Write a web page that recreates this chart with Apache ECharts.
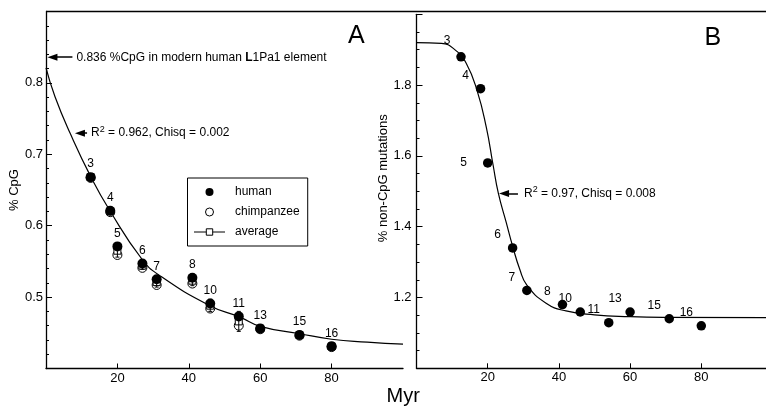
<!DOCTYPE html>
<html>
<head>
<meta charset="utf-8">
<script src="https://cdn.jsdelivr.net/npm/echarts@6/dist/echarts.min.js"></script>
<style>
  html, body { margin: 0; padding: 0; background: #fff; }
  #chart { width: 766px; height: 406px; }
</style>
</head>
<body>
<div id="chart"></div>
<script>
// L1 subfamilies and their age (Myr)
const subfamilies = ['3', '4', '5', '6', '7', '8', '10', '11', '13', '15', '16'];
const ages = [12.5, 18, 20, 27, 31, 41, 46, 54, 60, 71, 80];

// panel A: % CpG
const humanCpG = [0.668, 0.621, 0.571, 0.547, 0.525, 0.527, 0.491, 0.473, 0.456, 0.447, 0.431];
const chimpCpG = [0.667, 0.619, 0.559, 0.541, 0.517, 0.519, 0.484, 0.460, 0.455, 0.446, 0.430];
const averageCpG = [0.668, 0.620, 0.565, 0.544, 0.521, 0.523, 0.488, 0.466, 0.456, 0.447, 0.431];
const averageLow = [0.664, 0.616, 0.556, 0.539, 0.514, 0.516, 0.480, 0.452, 0.451, 0.442, 0.427];
const averageHigh = [0.672, 0.625, 0.574, 0.550, 0.528, 0.530, 0.497, 0.480, 0.461, 0.452, 0.436];
const cpgFitX = [0, 2.5, 6.8, 12.6, 17.9, 26.9, 31.9, 45.9, 54.3, 60, 70.8, 80, 90, 100];
const cpgFitY = [0.821, 0.781, 0.729, 0.668, 0.621, 0.553, 0.530, 0.488, 0.472, 0.459, 0.449, 0.441, 0.437, 0.434];

// panel B: % non-CpG mutations
const nonCpG = [1.88, 1.79, 1.58, 1.34, 1.22, 1.18, 1.159, 1.129, 1.159, 1.14, 1.12];
const nonCpGFitX = [0, 7, 11, 14, 17, 19.6, 21.5, 23, 25.2, 27, 29, 31, 36.4, 42, 50, 60, 70, 100];
const nonCpGFitY = [1.920, 1.918, 1.898, 1.861, 1.785, 1.681, 1.575, 1.494, 1.412, 1.345, 1.280, 1.235, 1.184, 1.162, 1.151, 1.146, 1.144, 1.143];

// label nudges for panel B (px), default is up-left of the dot
const nudgeDefault = [-15, -13];
const nudgeB = { '3': [-14, -16], '5': [-24, 0] };

const font = 'Liberation Sans';
const chart = echarts.init(document.getElementById('chart'), null, { renderer: 'canvas' });

function pairs(xs, ys) {
  return xs.map((x, i) => [x, ys[i]]);
}

function xAxisFor(gridIndex) {
  return {
    gridIndex: gridIndex,
    type: 'value',
    min: 0,
    max: 100,
    interval: 20,
    axisLine: { lineStyle: { color: '#000', width: 1.3 } },
    axisTick: { inside: true, length: 5, lineStyle: { color: '#000' } },
    axisLabel: { color: '#000', fontFamily: font, fontSize: 13, margin: 3, showMinLabel: false, showMaxLabel: false },
    splitLine: { show: false }
  };
}

function yAxisFor(gridIndex, min, max, interval, minorSplit, name, nameGap, margin, namePad) {
  return {
    gridIndex: gridIndex,
    type: 'value',
    min: min,
    max: max,
    interval: interval,
    name: name,
    nameLocation: 'middle',
    nameGap: nameGap,
    nameTextStyle: { color: '#000', fontFamily: font, fontSize: 13, padding: namePad },
    axisLine: { show: true, lineStyle: { color: '#000', width: 1.3 } },
    axisTick: { inside: true, length: 6, lineStyle: { color: '#000' } },
    minorTick: { show: true, splitNumber: minorSplit, length: 3, lineStyle: { color: '#000' } },
    axisLabel: {
      color: '#000', fontFamily: font, fontSize: 13, margin: margin,
      showMinLabel: false, showMaxLabel: false,
      formatter: v => v.toFixed(1)
    },
    splitLine: { show: false },
    minorSplitLine: { show: false }
  };
}

const labelText = { color: '#000', fontFamily: font, fontSize: 12 };
const supStyle = { fontSize: 9, lineHeight: 9, verticalAlign: 'top', fontFamily: font, color: '#000' };

const option = {
  animation: false,
  backgroundColor: '#fff',
  grid: [
    { left: 46, top: 11.5, right: 363, bottom: 37.5, outerBoundsMode: 'none' },
    { left: 416.5, top: 14.3, width: 356, bottom: 37.7, outerBoundsMode: 'none' }
  ],
  title: [
    { text: 'A', left: 348, top: 24, padding: 0, textStyle: { fontSize: 25, fontWeight: 'normal', fontFamily: font, color: '#000' } },
    { text: 'B', left: 704.5, top: 26, padding: 0, textStyle: { fontSize: 25, fontWeight: 'normal', fontFamily: font, color: '#000' } },
    { text: 'Myr', left: 386.5, top: 386, padding: 0, textStyle: { fontSize: 20, fontWeight: 'normal', fontFamily: font, color: '#000' } }
  ],
  legend: {
    orient: 'vertical',
    left: 187.5,
    top: 178,
    padding: [8, 8, 8, 6],
    itemWidth: 31,
    itemHeight: 8,
    itemGap: 8,
    borderColor: '#000',
    borderWidth: 1,
    selectedMode: false,
    textStyle: { color: '#000', fontFamily: font, fontSize: 12, padding: [0, 0, 0, 5] },
    data: [
      { name: 'human', icon: 'circle', itemStyle: { color: '#000', borderWidth: 0, opacity: 1 } },
      { name: 'chimpanzee', icon: 'circle', itemStyle: { color: '#fff', borderColor: '#000', borderWidth: 1, opacity: 1 } },
      { name: 'average', itemStyle: { color: '#fff', borderColor: '#000', borderWidth: 1, opacity: 1 }, lineStyle: { color: '#000', width: 1, opacity: 1 } }
    ]
  },
  xAxis: [xAxisFor(0), xAxisFor(1)],
  yAxis: [
    yAxisFor(0, 0.4, 0.9, 0.1, 5, '% CpG', 24, 3, 0),
    yAxisFor(1, 1.0, 2.0, 0.2, 4, '% non-CpG mutations', 21, 5, [0, 0, 0, 26])
  ],
  graphic: [
    { type: 'line', shape: { x1: 46, y1: 11.5, x2: 766, y2: 11.5 }, style: { stroke: '#000', lineWidth: 1.3 }, silent: true }
  ],
  series: [
    {
      name: 'fitA',
      type: 'line',
      xAxisIndex: 0, yAxisIndex: 0,
      data: pairs(cpgFitX, cpgFitY),
      smooth: 0.5,
      symbol: 'none',
      silent: true,
      z: 1,
      lineStyle: { color: '#000', width: 1.2 },
      markLine: {
        silent: true,
        symbol: ['triangle', 'none'],
        symbolSize: [7, 10],
        lineStyle: { color: '#000', width: 1.5, type: 'solid' },
        label: { show: true, position: 'end', distance: 4, lineHeight: 16, ...labelText, rich: { b: { fontWeight: 'bold', fontFamily: font, fontSize: 12, lineHeight: 16, color: '#000' }, sup: supStyle } },
        data: [
          [{ coord: [1.8, 0.836], label: { formatter: '0.836 %CpG in modern human {b|L}1Pa1 element' } }, { coord: [7.4, 0.836] }],
          [{ coord: [9.5, 0.7296], label: { formatter: 'R{sup|2} = 0.962, Chisq = 0.002' } }, { coord: [11.5, 0.7296] }]
        ]
      }
    },
    {
      name: 'chimpanzee',
      type: 'scatter',
      xAxisIndex: 0, yAxisIndex: 0,
      data: pairs(ages, chimpCpG),
      symbol: 'circle',
      symbolSize: 9,
      z: 2,
      itemStyle: { color: '#fff', borderColor: '#000', borderWidth: 1, opacity: 1 }
    },
    {
      name: 'average',
      type: 'line',
      xAxisIndex: 0, yAxisIndex: 0,
      data: pairs(ages, averageCpG),
      symbol: 'rect',
      symbolSize: 7,
      showAllSymbol: true,
      z: 3,
      lineStyle: { width: 0, opacity: 0 },
      itemStyle: { color: '#fff', borderColor: '#000', borderWidth: 1, opacity: 1 }
    },
    {
      name: 'errorbar',
      type: 'custom',
      xAxisIndex: 0, yAxisIndex: 0,
      data: ages.map((a, i) => [a, averageLow[i], averageHigh[i]]),
      silent: true,
      z: 4,
      renderItem: function (params, api) {
        const lo = api.coord([api.value(0), api.value(1)]);
        const hi = api.coord([api.value(0), api.value(2)]);
        const st = { stroke: '#000', lineWidth: 1 };
        return {
          type: 'group',
          children: [
            { type: 'line', shape: { x1: lo[0], y1: lo[1], x2: hi[0], y2: hi[1] }, style: st },
            { type: 'line', shape: { x1: lo[0] - 2, y1: lo[1], x2: lo[0] + 2, y2: lo[1] }, style: st },
            { type: 'line', shape: { x1: hi[0] - 2, y1: hi[1], x2: hi[0] + 2, y2: hi[1] }, style: st }
          ]
        };
      }
    },
    {
      name: 'human',
      type: 'scatter',
      xAxisIndex: 0, yAxisIndex: 0,
      data: ages.map((a, i) => ({ name: subfamilies[i], value: [a, humanCpG[i]] })),
      symbol: 'circle',
      symbolSize: 10,
      z: 6,
      itemStyle: { color: '#000', opacity: 1 },
      label: { show: true, position: 'top', distance: 2, formatter: '{b}', ...labelText }
    },
    {
      name: 'fitB',
      type: 'line',
      xAxisIndex: 1, yAxisIndex: 1,
      data: pairs(nonCpGFitX, nonCpGFitY),
      smooth: 0.5,
      symbol: 'none',
      silent: true,
      z: 1,
      lineStyle: { color: '#000', width: 1.2 },
      markLine: {
        silent: true,
        symbol: ['triangle', 'none'],
        symbolSize: [7, 10],
        lineStyle: { color: '#000', width: 1.5, type: 'solid' },
        label: { show: true, position: 'end', distance: 6, lineHeight: 16, ...labelText, rich: { sup: supStyle } },
        data: [
          [{ coord: [24.6, 1.494], label: { formatter: 'R{sup|2} = 0.97, Chisq = 0.008' } }, { coord: [28.5, 1.494] }]
        ]
      }
    },
    {
      name: 'nonCpG human',
      type: 'scatter',
      xAxisIndex: 1, yAxisIndex: 1,
      data: ages.map((a, i) => ({
        name: subfamilies[i],
        value: [a, nonCpG[i]],
        label: { offset: nudgeB[subfamilies[i]] || nudgeDefault }
      })),
      symbol: 'circle',
      symbolSize: 9.5,
      z: 6,
      itemStyle: { color: '#000', opacity: 1 },
      label: { show: true, position: 'inside', formatter: '{b}', ...labelText }
    }
  ]
};

chart.setOption(option);
</script>
</body>
</html>
